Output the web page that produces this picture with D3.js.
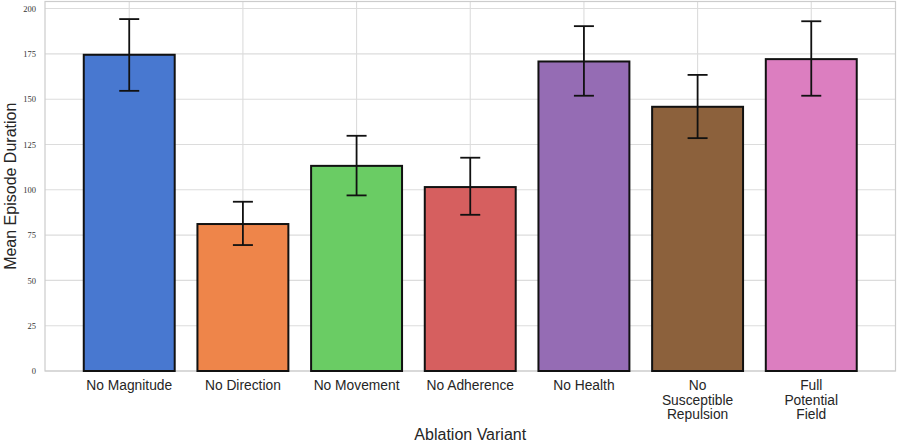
<!DOCTYPE html>
<html>
<head>
<meta charset="utf-8">
<script src="https://cdn.jsdelivr.net/npm/d3@7"></script>
<style>
  body { margin: 0; background: #fff; }
  .tick text.ylab { font-family: "Liberation Serif", "DejaVu Serif", serif; }
</style>
</head>
<body>
<div class="chart"></div>
<script>
// values
var variants = ['No Magnitude', 'No Direction', 'No Movement', 'No Adherence',
                'No Health', 'No Susceptible Repulsion', 'Full Potential Field']
  , labelLines = [['No Magnitude'], ['No Direction'], ['No Movement'], ['No Adherence'],
                  ['No Health'], ['No', 'Susceptible', 'Repulsion'], ['Full', 'Potential', 'Field']]
  , meanDuration = [174.5, 81.1, 113.2, 101.5, 170.8, 145.8, 172.1]
  , errLow = [154.6, 69.5, 96.9, 86.2, 151.9, 128.5, 151.9]
  , errHigh = [194.2, 93.4, 129.8, 117.7, 190.3, 163.4, 193.0]
  , yTicks = [0, 25, 50, 75, 100, 125, 150, 175, 200]
  , colors = ['#4878d0', '#ee854a', '#6acc64', '#d65f5f', '#956cb4', '#8c613c', '#dc7ec0'];

// plot box (window.top is reserved, so use other names)
var w = 897
  , h = 444
  , plotL = 45
  , plotR = 895.5
  , plotT = 1.5
  , plotB = 371;

var svg = d3.select('.chart')
            .append('svg')
            .attr('width', w)
            .attr('height', h);

var x = d3.scaleBand()
          .domain(variants)
          .range([plotL, plotR])
          .paddingInner(0.2)
          .paddingOuter(0.341);

var y = d3.scaleLinear()
          .domain([0, 203.9])
          .range([plotB, plotT]);

var cx = function (d) { return x(d) + x.bandwidth() / 2; };

// grid
svg.append('g')
   .selectAll('line')
   .data(yTicks)
   .enter()
   .append('line')
   .attr('x1', plotL).attr('x2', plotR)
   .attr('y1', function (d) { return y(d); })
   .attr('y2', function (d) { return y(d); })
   .attr('stroke', '#dcdcdc')
   .attr('stroke-width', 1.1);

svg.append('g')
   .selectAll('line')
   .data(variants)
   .enter()
   .append('line')
   .attr('x1', cx).attr('x2', cx)
   .attr('y1', plotT).attr('y2', plotB)
   .attr('stroke', '#dcdcdc')
   .attr('stroke-width', 1.1);

// frame
svg.append('rect')
   .attr('x', plotL).attr('y', plotT)
   .attr('width', plotR - plotL).attr('height', plotB - plotT)
   .attr('fill', 'none')
   .attr('stroke', '#cccccc')
   .attr('stroke-width', 1.2);

// bars
svg.append('g')
   .selectAll('rect')
   .data(variants)
   .enter()
   .append('rect')
   .attr('x', function (d) { return x(d); })
   .attr('width', x.bandwidth())
   .attr('y', function (d, i) { return y(meanDuration[i]); })
   .attr('height', function (d, i) { return plotB - y(meanDuration[i]); })
   .attr('fill', function (d, i) { return colors[i]; })
   .attr('stroke', '#111')
   .attr('stroke-width', 2);

// error bars
var eb = svg.append('g')
            .selectAll('g')
            .data(variants)
            .enter()
            .append('g')
            .attr('stroke', '#111')
            .attr('stroke-width', 1.8);

eb.append('line')
  .attr('x1', cx).attr('x2', cx)
  .attr('y1', function (d, i) { return y(errLow[i]); })
  .attr('y2', function (d, i) { return y(errHigh[i]); });

[errLow, errHigh].forEach(function (arr) {
  eb.append('line')
    .attr('x1', function (d) { return cx(d) - 10; })
    .attr('x2', function (d) { return cx(d) + 10; })
    .attr('y1', function (d, i) { return y(arr[i]); })
    .attr('y2', function (d, i) { return y(arr[i]); });
});

// y axis
var yAxis = svg.append('g')
               .attr('transform', 'translate(' + plotL + ',0)')
               .call(d3.axisLeft(y).tickValues(yTicks).tickSize(0).tickPadding(9));
yAxis.select('.domain').remove();
yAxis.selectAll('text')
     .attr('class', 'ylab')
     .attr('font-size', 8.5)
     .attr('fill', '#333');

// x labels
var xl = svg.append('g')
            .selectAll('text')
            .data(variants)
            .enter()
            .append('text')
            .attr('text-anchor', 'middle')
            .attr('font-family', 'Liberation Sans, Arial, sans-serif')
            .attr('font-size', 13.8)
            .attr('fill', '#262626');

xl.each(function (d, i) {
  var node = d3.select(this);
  labelLines[i].forEach(function (line, j) {
    node.append('tspan')
        .attr('x', cx(d))
        .attr('y', 390 + j * 14.5)
        .text(line);
  });
});

svg.append('text')
   .attr('x', (plotL + plotR) / 2)
   .attr('y', 439.5)
   .attr('text-anchor', 'middle')
   .attr('font-family', 'Liberation Sans, Arial, sans-serif')
   .attr('font-size', 16)
   .attr('fill', '#262626')
   .text('Ablation Variant');

svg.append('text')
   .attr('transform', 'translate(15.5,' + (plotT + plotB) / 2 + ') rotate(-90)')
   .attr('text-anchor', 'middle')
   .attr('font-family', 'Liberation Sans, Arial, sans-serif')
   .attr('font-size', 16)
   .attr('fill', '#262626')
   .text('Mean Episode Duration');
</script>
</body>
</html>
